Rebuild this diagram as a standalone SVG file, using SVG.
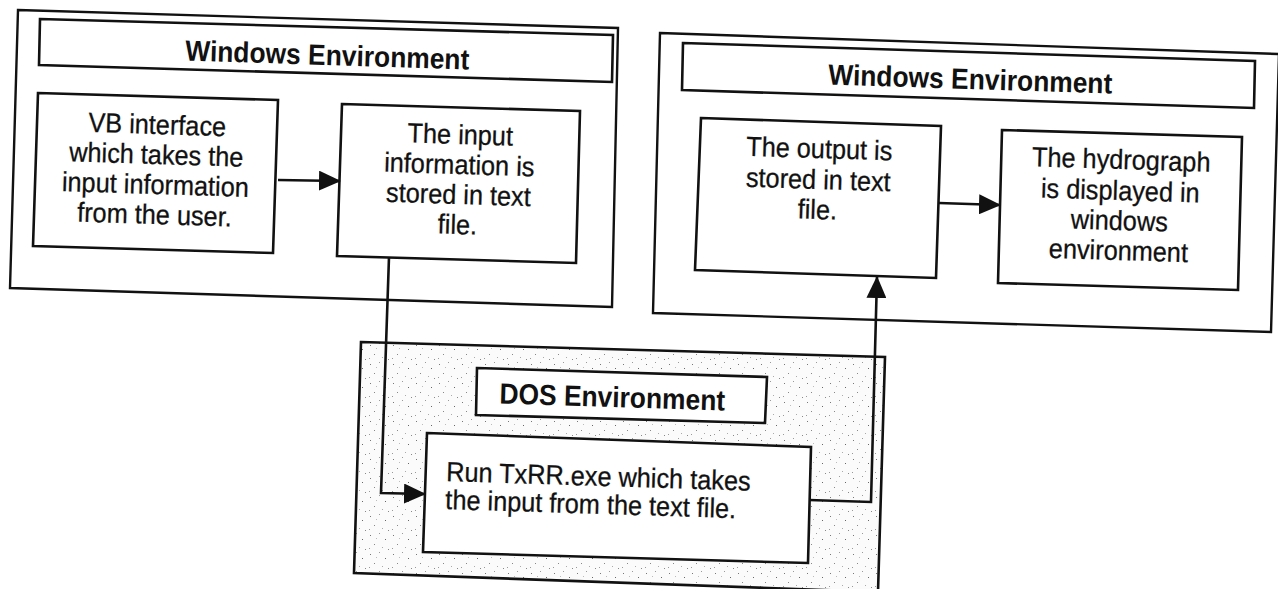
<svg xmlns="http://www.w3.org/2000/svg" width="1278" height="589" viewBox="0 0 1278 589">
<style>
.box{fill:#fff;stroke:#111;stroke-width:2.6;stroke-linejoin:miter}
.outer{fill:#fff;stroke:#111;stroke-width:2.4}
.dos{fill:url(#speckle);stroke:#111;stroke-width:2.6}
.title{font-family:"Liberation Sans",Arial,Helvetica,sans-serif;font-weight:bold;font-size:29px;fill:#111;text-anchor:middle}
.body{font-family:"Liberation Sans",Arial,Helvetica,sans-serif;font-size:27.5px;fill:#111;stroke:#111;stroke-width:0.3;text-anchor:middle}
.left{text-anchor:start}
.conn{fill:none;stroke:#111;stroke-width:2.6;marker-end:url(#arrow)}
</style>
<defs>
<marker id="arrow" markerUnits="userSpaceOnUse" markerWidth="22" markerHeight="20" refX="21" refY="10" orient="auto">
<path d="M0,0 L22,10 L0,20 Z" fill="#111"/>
</marker>
<pattern id="speckle" patternUnits="userSpaceOnUse" width="23" height="19">
<rect width="23" height="19" fill="#fbfbfb"/>
<rect x="2" y="3" width="1" height="1" fill="#777"/>
<rect x="11" y="1" width="1" height="1" fill="#999"/>
<rect x="17" y="7" width="1" height="1" fill="#666"/>
<rect x="6" y="12" width="1" height="1" fill="#888"/>
<rect x="14" y="15" width="1" height="1" fill="#aaa"/>
<rect x="20" y="17" width="1" height="1" fill="#888"/>
<rect x="8" y="6" width="1" height="1" fill="#bbb"/>
<rect x="1" y="16" width="1" height="1" fill="#999"/>
</pattern>
</defs>

<g id="left-windows-env">
<polygon class="outer" points="18,10 618,28 612,307 10,288"/>
</g>
<g id="left-windows-title">
<polygon class="box" points="40,19 613,35 612,82 39,65"/>
<text class="title" transform="translate(327,65) rotate(1.8) scale(0.91,1)">Windows Environment</text>
</g>
<g id="node-vb">
<polygon class="box" points="38,93 278,100 273,253 33,246"/>
<text class="body" transform="translate(157,134) rotate(1.8) scale(0.92,1)"><tspan x="0" y="0">VB interface</tspan><tspan x="0" y="30">which takes the</tspan><tspan x="0" y="60">input information</tspan><tspan x="0" y="90">from the user.</tspan></text>
</g>
<g id="node-input">
<polygon class="box" points="342,104 580,111 576,263 337,256"/>
<text class="body" transform="translate(460,144) rotate(1.8) scale(0.92,1)"><tspan x="0" y="0">The input</tspan><tspan x="0" y="30">information is</tspan><tspan x="0" y="60">stored in text</tspan><tspan x="0" y="90">file.</tspan></text>
</g>

<g id="right-windows-env">
<polygon class="outer" points="660,33 1279,54 1271,332 653,313"/>
</g>
<g id="right-windows-title">
<polygon class="box" points="683,43 1255,61 1254,108 682,90"/>
<text class="title" transform="translate(970,89) rotate(1.8) scale(0.91,1)">Windows Environment</text>
</g>
<g id="node-output">
<polygon class="box" points="701,118 941,126 936,278 695,270"/>
<text class="body" transform="translate(819,158) rotate(1.8) scale(0.92,1)"><tspan x="0" y="0">The output is</tspan><tspan x="0" y="31">stored in text</tspan><tspan x="0" y="61">file.</tspan></text>
</g>
<g id="node-hydrograph">
<polygon class="box" points="1002,130 1242,137 1238,290 998,283"/>
<text class="body" transform="translate(1121,169) rotate(1.8) scale(0.92,1)"><tspan x="0" y="0">The hydrograph</tspan><tspan x="0" y="31">is displayed in</tspan><tspan x="0" y="61">windows</tspan><tspan x="0" y="91">environment</tspan></text>
</g>

<g id="dos-env">
<polygon class="dos" points="361,342 885,357 878,592 354,573"/>
</g>
<g id="dos-title">
<polygon class="box" points="477,368 767,377 765,423 476,415"/>
<text class="title" transform="translate(612,407) rotate(1.8) scale(0.91,1)">DOS Environment</text>
</g>
<g id="node-run">
<polygon class="box" points="427,433 811,447 808,563 423,552"/>
<text class="body left" transform="translate(446,481) rotate(1.8) scale(0.92,1)"><tspan x="0" y="0">Run TxRR.exe which takes</tspan><tspan x="0" y="28">the input from the text file.</tspan></text>
</g>

<g id="connectors">
<polyline class="conn" points="278,180 340,181"/>
<polyline class="conn" points="939,203 1000,205"/>
<polyline class="conn" points="389,257 381,493 425,494"/>
<polyline class="conn" points="809,500 871,502 877,277"/>
</g>
</svg>
